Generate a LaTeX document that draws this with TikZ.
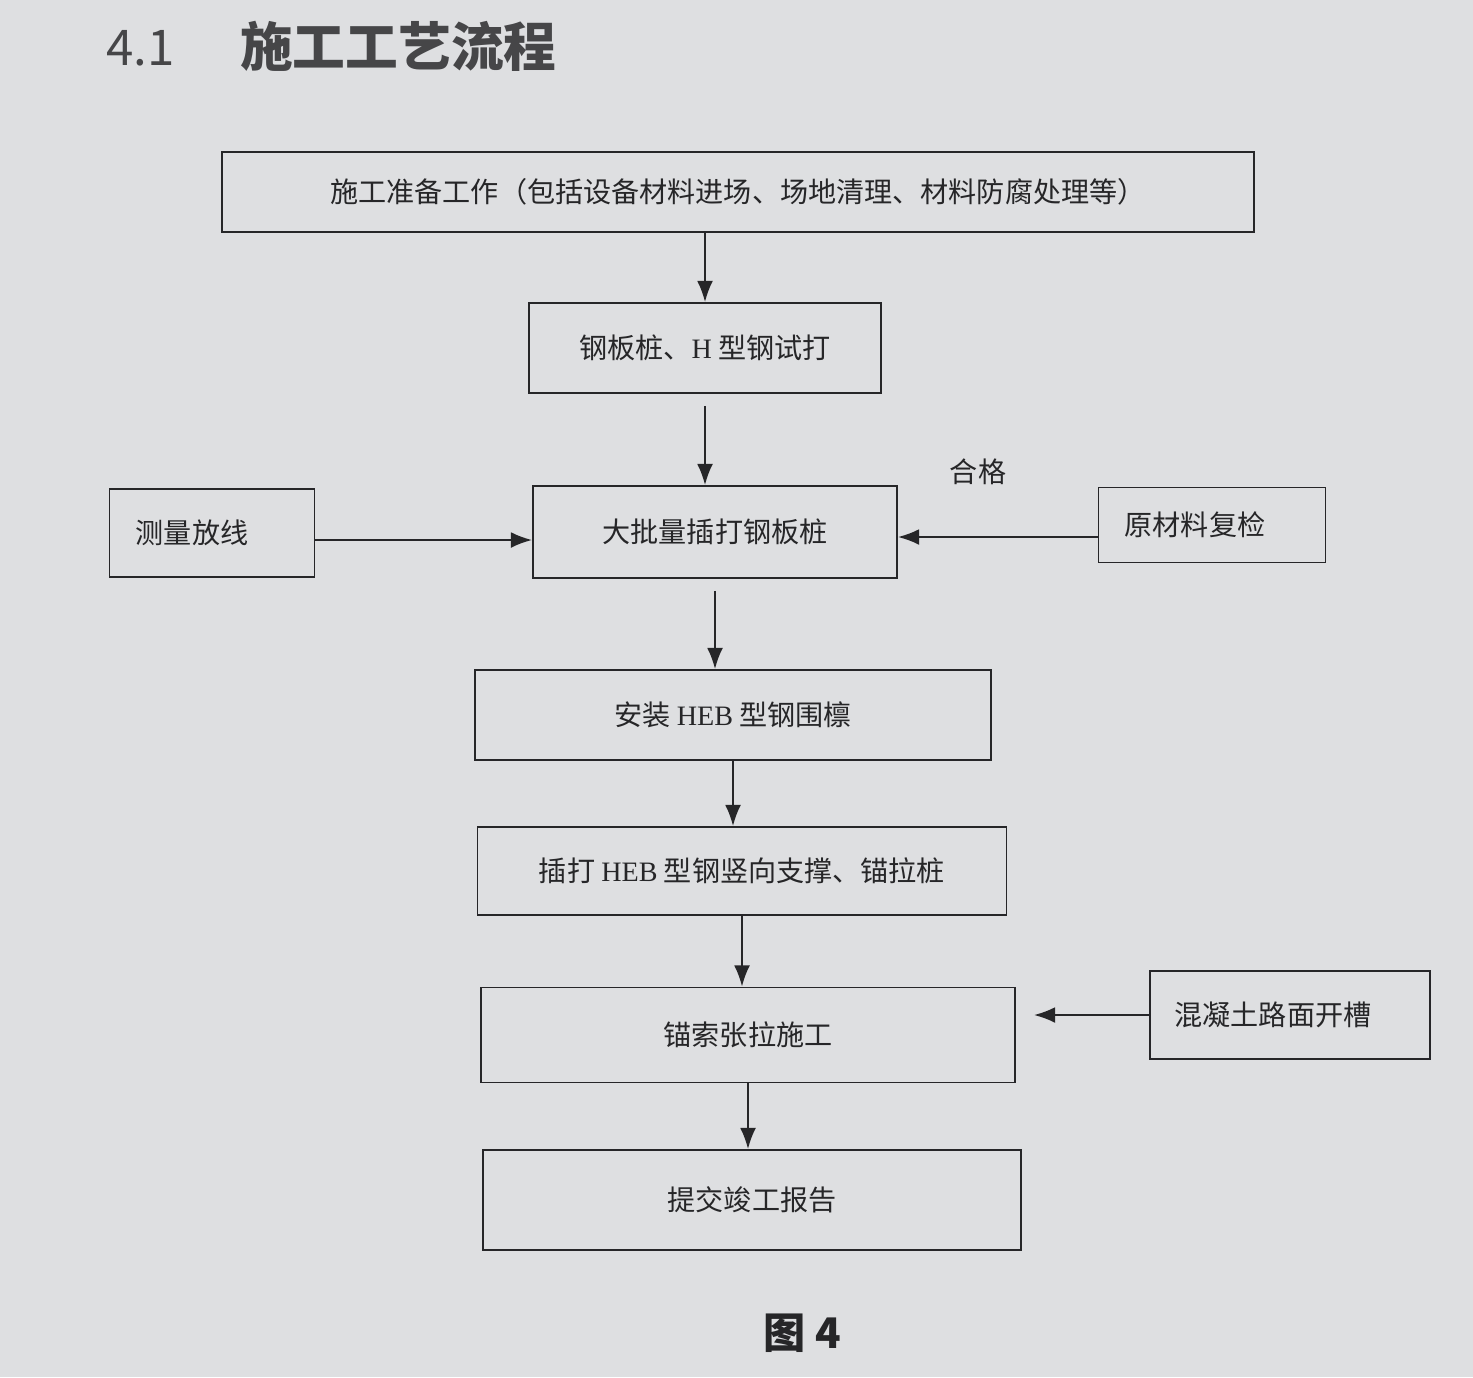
\documentclass[tikz,border=0pt]{standalone}
\usepackage{fontspec}
\setmainfont{Noto Sans CJK SC}
\newfontfamily\cjk{Noto Sans CJK SC}
\newfontfamily\latserif{Liberation Serif}
\usetikzlibrary{arrows.meta}
\definecolor{paper}{RGB}{222,223,225}
\definecolor{ink}{RGB}{38,38,40}
\definecolor{titleink}{RGB}{70,70,72}
\newlength\upx
\setlength\upx{0.02cm}
\begin{document}
\begin{tikzpicture}[x=0.02cm,y=-0.02cm,
  box/.style={draw=ink,line width=1.1pt,fill=paper,text=ink,inner sep=0pt,
    font=\cjk\fontsize{16}{19}\selectfont},
  arr/.style={draw=ink,line width=1.1pt,-{Latex[length=12pt,width=9pt]}},
  lbl/.style={text=ink,font=\cjk\fontsize{16}{19}\selectfont}]
\fill[paper] (0,0) rectangle (1473,1377);
\useasboundingbox (0,0) rectangle (1473,1377);
% title
\node[text=titleink,font=\cjk\fontsize{28}{32}\selectfont,anchor=west] (t1) at (100,48) {4.1};
\node[text=titleink,font=\cjk\bfseries\fontsize{30}{34}\selectfont,anchor=west] (t2) at (234,46) {施工工艺流程};
% boxes
\node[box,minimum width=1032\upx,minimum height=80\upx] (b1) at (738,192) {施工准备工作（包括设备材料进场、场地清理、材料防腐处理等）};
\node[box,minimum width=352\upx,minimum height=90\upx] (b2) at (705,348) {钢板桩、{\latserif H} 型钢试打};
\node[box,minimum width=364\upx,minimum height=92\upx] (b3) at (715,532) {大批量插打钢板桩};
\node[box,minimum width=205\upx,minimum height=88\upx] (b4) at (212,533) {\hspace*{-40\upx}测量放线};
\node[box,minimum width=227\upx,minimum height=75\upx] (b5) at (1212,525) {\hspace*{-34\upx}原材料复检};
\node[lbl] (hg) at (978,472) {合格};
\node[box,minimum width=516\upx,minimum height=90\upx] (b7) at (733,715) {安装 {\latserif HEB} 型钢围檩};
\node[box,minimum width=529\upx,minimum height=88\upx] (b8) at (742,871) {插打 {\latserif HEB} 型钢竖向支撑、锚拉桩};
\node[box,minimum width=534\upx,minimum height=95\upx] (b9) at (748,1035) {锚索张拉施工};
\node[box,minimum width=280\upx,minimum height=88\upx] (b10) at (1290,1015) {\hspace*{-34\upx}混凝土路面开槽};
\node[box,minimum width=538\upx,minimum height=100\upx] (b11) at (752,1200) {提交竣工报告};
% caption
\node[text=ink,font=\cjk\bfseries\fontsize{24}{28}\selectfont] (cap) at (802,1333) {图 4};
% arrows
\draw[arr] (b2.north |- b1.south) -- (b2.north);
\draw[arr,shorten <=12\upx] (b2.south) -- (b2.south |- b3.north);
\draw[arr] ([yshift=-7\upx]b4.east) -- ([yshift=-7\upx]b4.east -| b3.west);
\draw[arr] ([yshift=-12\upx]b5.west) -- ([yshift=-12\upx]b5.west -| b3.east);
\draw[arr,shorten <=12\upx] (b3.south) -- (b3.south |- b7.north);
\draw[arr] (b7.south) -- (b7.south |- b8.north);
\draw[arr] (b8.south) -- (b8.south |- b9.north);
\draw[arr,shorten >=18\upx] (b10.west) -- (b10.west -| b9.east);
\draw[arr] (b9.south) -- (b9.south |- b11.north);
\end{tikzpicture}
\end{document}
